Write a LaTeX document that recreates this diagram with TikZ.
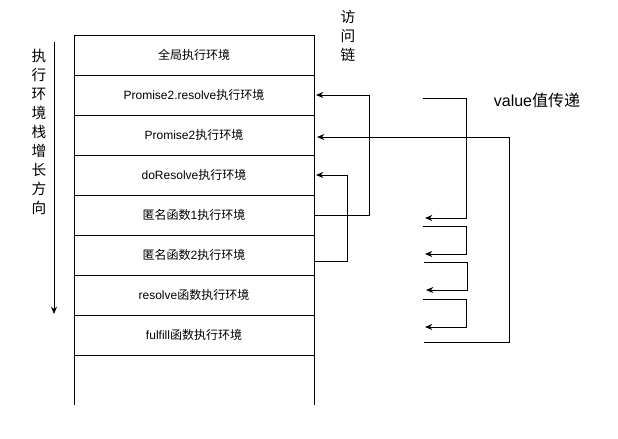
\documentclass[tikz,border=0pt]{standalone}
\usepackage{fontspec}
\setmainfont{Liberation Sans}
\newfontfamily\cjk{Noto Sans CJK SC}
\usetikzlibrary{arrows.meta,calc}
\begin{document}
\begin{tikzpicture}[x=0.75pt,y=-0.75pt,
 stackrow/.style={draw, minimum width=180pt, minimum height=30pt, inner sep=0pt, outer sep=0pt, font=\fontsize{9}{11}\selectfont, line width=0.75pt},
 link/.style={line width=0.75pt, -{Stealth[length=5.5pt,width=4.5pt]}},
 plain/.style={line width=0.75pt},
 vlabel/.style={align=center, font=\fontsize{11}{14.25}\selectfont\cjk, inner sep=0pt}]
\useasboundingbox (0,0) rectangle (618,439);
% stack
\node[stackrow] (r1) at (194,55) {\cjk 全局执行环境};
\node[stackrow] (r2) at (194,95) {Promise2.resolve{\cjk 执行环境}};
\node[stackrow] (r3) at (194,135) {Promise2{\cjk 执行环境}};
\node[stackrow] (r4) at (194,175) {doResolve{\cjk 执行环境}};
\node[stackrow] (r5) at (194,215) {{\cjk 匿名函数}1{\cjk 执行环境}};
\node[stackrow] (r6) at (194,255) {{\cjk 匿名函数}2{\cjk 执行环境}};
\node[stackrow] (r7) at (194,295) {resolve{\cjk 函数执行环境}};
\node[stackrow] (r8) at (194,335) {fulfill{\cjk 函数执行环境}};
\coordinate (bl) at (74,405);
\coordinate (br) at (314,405);
\draw[plain] (r8.south west) -- (bl);
\draw[plain] (r8.south east) -- (br);
% growth direction
\node[vlabel] (dir) at (39,132) {执\\行\\环\\境\\栈\\增\\长\\方\\向};
\coordinate (gt) at (54,42);
\coordinate (gb) at (54,314);
\draw[link] (gt) -- (gb);
% access chain
\node[vlabel] (acc) at (348,36) {访\\问\\链};
\draw[link] (r5.east) -- ++(55,0) |- ($(r2.east)+(2,0)$);
\draw[link] ($(r6.east)+(0,6)$) -- ++(33,0) |- ($(r4.east)+(2,0)$);
% value passing
\node[font=\fontsize{12}{14}\selectfont, inner sep=0pt] (val) at (537,100) {value{\cjk 值传递}};
\coordinate (va1) at (423,98);  \coordinate (vb1) at (425,218);
\coordinate (va2) at (423,226); \coordinate (vb2) at (425,254);
\coordinate (va3) at (424,262); \coordinate (vb3) at (426,290);
\coordinate (va4) at (423,299); \coordinate (vb4) at (425,327);
\coordinate (vc) at (424,342);
\draw[link] (va1) -- ++(43,0) |- (vb1);
\draw[link] (va2) -- ++(43,0) |- (vb2);
\draw[link] (va3) -- ++(43,0) |- (vb3);
\draw[link] (va4) -- ++(43,0) |- (vb4);
\draw[link] (vc) -- ++(85,0) |- ($(r3.east)+(3,2)$);
\end{tikzpicture}
\end{document}
